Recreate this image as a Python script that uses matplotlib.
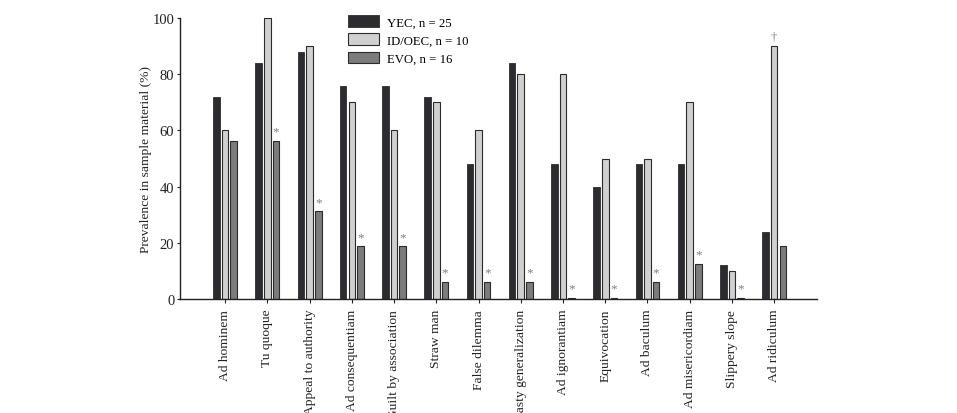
import matplotlib
matplotlib.use("Agg")
import matplotlib.pyplot as plt
import numpy as np

plt.rcParams['font.family'] = ['Liberation Serif', 'DejaVu Serif']

categories = ["Ad hominem", "Tu quoque", "Appeal to authority", "Ad consequentiam",
              "Guilt by association", "Straw man", "False dilemma", "Hasty generalization",
              "Ad ignorantiam", "Equivocation", "Ad baculum", "Ad misericordiam",
              "Slippery slope", "Ad ridiculum"]
yec = [72, 84, 88, 76, 76, 72, 48, 84, 48, 40, 48, 48, 12, 24]
id_oec = [60, 100, 90, 70, 60, 70, 60, 80, 80, 50, 50, 70, 10, 90]
evo = [56.25, 56.25, 31.25, 18.75, 18.75, 6.25, 6.25, 6.25, 0.5, 0.5, 6.25, 12.5, 0.5, 18.75]
evo_star = [False, True, True, True, True, True, True, True, True, True, True, True, True, False]
id_dagger = [False]*13 + [True]
series_labels = ["YEC, n = 25", "ID/OEC, n = 10", "EVO, n = 16"]

fig = plt.figure(figsize=(9.57, 4.14), dpi=100)
ax = fig.add_axes([0.188, 0.275, 0.666, 0.679])

x = np.arange(len(categories))
w = 0.155
off = 0.205
c_yec, c_id, c_evo = "#2c2c30", "#d0d0d0", "#7c7c7c"
ax.bar(x - off, yec, w, color=c_yec, edgecolor=c_yec, linewidth=0.6, label=series_labels[0])
ax.bar(x, id_oec, w, color=c_id, edgecolor="#2b2b2b", linewidth=0.8, label=series_labels[1])
ax.bar(x + off, evo, w, color=c_evo, edgecolor="#2b2b2b", linewidth=0.8, label=series_labels[2])

for i in range(len(categories)):
    if evo_star[i]:
        ax.text(x[i] + off, evo[i] + 1.2, "*", ha="center", va="bottom", fontsize=9.5, color="#808080")
    if id_dagger[i]:
        ax.text(x[i], id_oec[i] + 1.2, "\u2020", ha="center", va="bottom", fontsize=9, color="#808080")

ax.set_xlim(-1.07, 14.02)
ax.set_ylim(0, 100)
ax.set_yticks([0, 20, 40, 60, 80, 100])
ax.set_xticks(x)
ax.set_xticklabels(categories, rotation=90, fontsize=9.7)
ax.tick_params(axis='y', labelsize=10.5, direction='out', length=2, width=0.8, pad=2, colors="#222222")
ax.tick_params(axis='x', direction='out', length=3, width=0.8, pad=4, colors="#222222")
ax.spines['top'].set_visible(False)
ax.spines['right'].set_visible(False)
for s in ['left', 'bottom']:
    ax.spines[s].set_linewidth(1.0)
    ax.spines[s].set_color("#222222")
ax.set_ylabel("Prevalence in sample material (%)", fontsize=9.7, color="#222222", labelpad=0.5)

leg = ax.legend(loc="upper left", bbox_to_anchor=(0.263, 1.01), frameon=False, fontsize=9.2,
                handlelength=2.5, handleheight=1.0, handletextpad=0.55, labelspacing=0.4,
                borderaxespad=0, borderpad=0)

fig.savefig("out.png", dpi=100)
